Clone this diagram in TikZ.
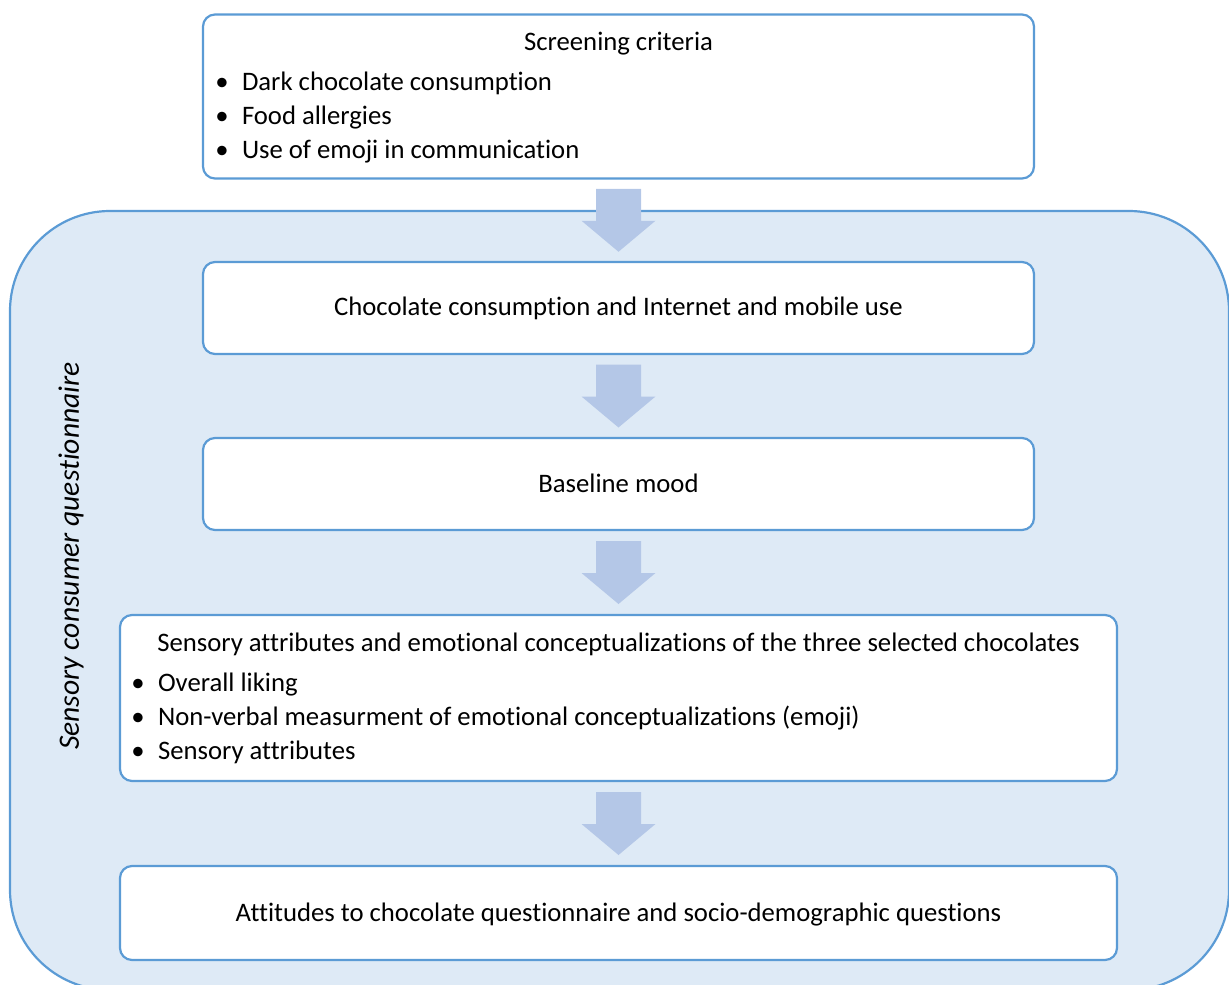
\documentclass[tikz,border=0pt]{standalone}
\usepackage{fontspec}
\setmainfont[Ligatures=NoCommon]{Carlito}
\usetikzlibrary{calc}

\definecolor{frameblue}{HTML}{5B9BD5}
\definecolor{panelfill}{HTML}{DEEAF6}
\definecolor{arrowfill}{HTML}{B4C7E7}

\tikzset{
  stepbox/.style={draw=frameblue, line width=2.2pt, fill=white, rounded corners=12pt,
    inner sep=0pt, outer sep=0pt},
  panel/.style={draw=frameblue, line width=2.2pt, fill=panelfill, rounded corners=100pt},
  flowtip/.style={fill=arrowfill, draw=none},
  label/.style={font=\fontsize{26.7}{34}\selectfont, inner sep=0pt, outer sep=0pt},
  bulletmark/.style={font=\fontsize{26.7}{34}\selectfont, inner sep=0pt, anchor=base},
}

% down-pointing block arrow centred between two boxes
\newcommand\flowarrow[2]{%
  \begin{scope}[shift={($(#1.south)!0.5!(#2.north)$)}]
    \path[flowtip] (-22.5,-31.5) -- (22.5,-31.5) -- (22.5,0.5) -- (37,0.5)
      -- (0,31.5) -- (-37,0.5) -- (-22.5,0.5) -- cycle;
  \end{scope}}

\begin{document}
\begin{tikzpicture}[x=1pt,y=-1pt]
  \useasboundingbox (0,0) rectangle (1229,985);

  % questionnaire panel
  \begin{scope}
    \clip (0,0) rectangle (1229,985);
    \path[panel] (10,211) rectangle (1229,990);
  \end{scope}
  \node[label, font=\fontsize{29.6}{34}\selectfont\itshape, rotate=90] (paneltitle) at (71,556)
    {Sensory consumer questionnaire};

  % boxes
  \node[stepbox, minimum width=831pt, minimum height=164pt] (screen) at (618.5,96.5) {};
  \node[stepbox, minimum width=831pt, minimum height=92pt] (usage) at (618.5,308) {};
  \node[stepbox, minimum width=831pt, minimum height=92pt] (mood) at (618.5,484) {};
  \node[stepbox, minimum width=997pt, minimum height=166pt] (sensory) at (618.5,698) {};
  \node[stepbox, minimum width=997pt, minimum height=94pt] (attitude) at (618.5,913) {};

  % arrows
  \flowarrow{screen}{usage}
  \flowarrow{usage}{mood}
  \flowarrow{mood}{sensory}
  \flowarrow{sensory}{attitude}

  % screening criteria
  \node[label, anchor=base] (screentitle) at (618.5,50) {Screening criteria};
  \node[bulletmark] (sb1) at (222,90) {•};
  \node[bulletmark] (sb2) at (222,124) {•};
  \node[bulletmark] (sb3) at (222,158) {•};
  \node[label, anchor=base west] (si1) at (242,90) {Dark chocolate consumption};
  \node[label, anchor=base west] (si2) at (242,124) {Food allergies};
  \node[label, anchor=base west] (si3) at (242,158) {Use of emoji in communication};

  % single-line steps
  \node[label, anchor=base] (usagetext) at (618.5,315) {Chocolate consumption and Internet and mobile use};
  \node[label, anchor=base] (moodtext) at (618.5,492) {Baseline mood};
  \node[label, anchor=base] (attitudetext) at (618.5,921) {Attitudes to chocolate questionnaire and socio-demographic questions};

  % sensory evaluation
  \node[label, anchor=base] (sensorytitle) at (618.5,651)
    {Sensory attributes and emotional conceptualizations of the three selected chocolates};
  \node[bulletmark] (eb1) at (138,691) {•};
  \node[bulletmark] (eb2) at (138,725) {•};
  \node[bulletmark] (eb3) at (138,759) {•};
  \node[label, anchor=base west] (ei1) at (158,691) {Overall liking};
  \node[label, anchor=base west] (ei2) at (158,725) {Non-verbal measurment of emotional conceptualizations (emoji)};
  \node[label, anchor=base west] (ei3) at (158,759) {Sensory attributes};
\end{tikzpicture}
\end{document}
